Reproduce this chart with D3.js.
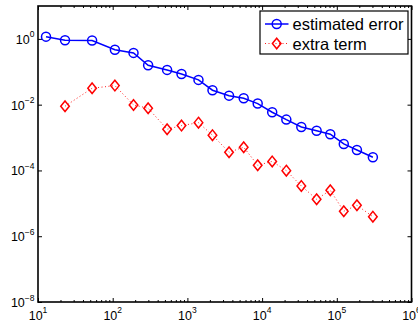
<!DOCTYPE html>
<html>
<head>
<meta charset="utf-8">
<script src="https://cdn.jsdelivr.net/npm/d3@7"></script>
<style>
  body { margin: 0; background: #fff; }
  svg { display: block; font-family: "Liberation Sans", Arial, Helvetica, sans-serif; }
</style>
</head>
<body>
<div id="chart"></div>
<script>
// sample sizes (x) and the two series
var nValues = [12.8, 23, 53, 107, 190, 298, 535, 834, 1407, 2166, 3610, 5670, 8730,
  13650, 21100, 33500, 53700, 81800, 124000, 186000, 304000]
var estimatedError = [1.17, 0.91, 0.89, 0.47, 0.375, 0.158, 0.114, 0.086, 0.0566, 0.0275,
  0.0188, 0.0157, 0.0108, 0.00589, 0.00351, 0.0021, 0.00162, 0.00126, 0.00064, 0.00042, 0.000252]
var extraN = nValues.slice(1)
var extraTerm = [0.00897, 0.0316, 0.038, 0.0098, 0.0078, 0.00179, 0.00231, 0.00284, 0.00118,
  0.000358, 0.000508, 0.000144, 0.000188, 9.86e-5, 3.38e-5, 1.33e-5, 2.5e-5, 5.74e-6, 8.73e-6, 3.93e-6]

var xTickExp = [1, 2, 3, 4, 5, 6]
var yTickExp = [-8, -6, -4, -2, 0]
var legendLabels = ['estimated error', 'extra term']

var margin = { top: 6, right: 6.5, bottom: 23, left: 38 }
var W = 418, H = 325
var width = W - margin.left - margin.right
var height = H - margin.top - margin.bottom

var svg = d3.select('#chart').append('svg')
  .attr('width', W)
  .attr('height', H)

var g = svg.append('g')
  .attr('transform', 'translate(' + margin.left + ',' + margin.top + ')')

var x = d3.scaleLog().domain([1e1, 1e6]).range([0, width])
var y = d3.scaleLog().domain([1e-8, 1e1]).range([height, 0])

var xMajor = xTickExp.map(function(e) { return Math.pow(10, e) })
var xMinor = []
for (var e = 1; e < 6; e++) {
  for (var k = 2; k < 10; k++) xMinor.push(k * Math.pow(10, e))
}
var yMajor = yTickExp.map(function(e) { return Math.pow(10, e) })

function tickStyle(sel) {
  sel.select('.domain').remove()
  sel.selectAll('line').attr('stroke', '#000').attr('stroke-width', 1)
}

// ticks inward on all four sides
g.append('g').attr('transform', 'translate(0,' + height + ')')
  .call(d3.axisBottom(x).tickValues(xMajor).tickSize(-4).tickFormat('')).call(tickStyle)
g.append('g').attr('transform', 'translate(0,' + height + ')')
  .call(d3.axisBottom(x).tickValues(xMinor).tickSize(-2).tickFormat('')).call(tickStyle)
g.append('g')
  .call(d3.axisTop(x).tickValues(xMajor).tickSize(-4).tickFormat('')).call(tickStyle)
g.append('g')
  .call(d3.axisTop(x).tickValues(xMinor).tickSize(-2).tickFormat('')).call(tickStyle)
g.append('g')
  .call(d3.axisLeft(y).tickValues(yMajor).tickSize(-4).tickFormat('')).call(tickStyle)
g.append('g').attr('transform', 'translate(' + width + ',0)')
  .call(d3.axisRight(y).tickValues(yMajor).tickSize(-4).tickFormat('')).call(tickStyle)

// tick labels as 10 with superscript exponent
xTickExp.forEach(function(e) {
  var t = g.append('text')
    .attr('x', x(Math.pow(10, e)))
    .attr('y', height + 17.5)
    .attr('text-anchor', 'middle')
    .attr('font-size', 12.5)
  t.append('tspan').text('10')
  t.append('tspan').attr('dy', -6.5).attr('font-size', 8.5).text(e)
})
yTickExp.forEach(function(e) {
  var t = g.append('text')
    .attr('x', -3.5)
    .attr('y', y(Math.pow(10, e)) + 5)
    .attr('text-anchor', 'end')
    .attr('font-size', 12.5)
  t.append('tspan').text('10')
  t.append('tspan').attr('dy', -6.5).attr('font-size', 8.5).text(e < 0 ? '\u2212' + (-e) : e)
})

// frame
g.append('rect')
  .attr('width', width)
  .attr('height', height)
  .attr('fill', 'none')
  .attr('stroke', '#000')
  .attr('stroke-width', 1.6)

var diamond = 'M0,-5.3L4.3,0L0,5.3L-4.3,0Z'

// extra term: red dotted line with diamonds
var extraData = extraN.map(function(n, i) { return [n, extraTerm[i]] })
g.append('path')
  .datum(extraData)
  .attr('fill', 'none')
  .attr('stroke', '#ff0000')
  .attr('stroke-width', 0.9)
  .attr('stroke-dasharray', '1,2.5')
  .attr('d', d3.line().x(function(d) { return x(d[0]) }).y(function(d) { return y(d[1]) }))
g.selectAll('.dia')
  .data(extraData)
  .enter().append('path')
  .attr('class', 'dia')
  .attr('d', diamond)
  .attr('transform', function(d) { return 'translate(' + x(d[0]) + ',' + y(d[1]) + ')' })
  .attr('fill', 'none')
  .attr('stroke', '#ff0000')
  .attr('stroke-width', 1.5)

// estimated error: blue solid line with circles
var errData = nValues.map(function(n, i) { return [n, estimatedError[i]] })
g.append('path')
  .datum(errData)
  .attr('fill', 'none')
  .attr('stroke', '#0000ff')
  .attr('stroke-width', 1.5)
  .attr('d', d3.line().x(function(d) { return x(d[0]) }).y(function(d) { return y(d[1]) }))
g.selectAll('.circ')
  .data(errData)
  .enter().append('circle')
  .attr('class', 'circ')
  .attr('cx', function(d) { return x(d[0]) })
  .attr('cy', function(d) { return y(d[1]) })
  .attr('r', 4.5)
  .attr('fill', 'none')
  .attr('stroke', '#0000ff')
  .attr('stroke-width', 1.5)

// legend
var lg = svg.append('g').attr('transform', 'translate(260,11)')
lg.append('rect')
  .attr('width', 148)
  .attr('height', 43)
  .attr('fill', '#fff')
  .attr('stroke', '#000')
  .attr('stroke-width', 1.2)

var rowY = [13, 32.5]
lg.append('line').attr('x1', 5).attr('x2', 28.5).attr('y1', rowY[0]).attr('y2', rowY[0])
  .attr('stroke', '#0000ff').attr('stroke-width', 1.5)
lg.append('circle').attr('cx', 16.7).attr('cy', rowY[0]).attr('r', 4.5)
  .attr('fill', 'none').attr('stroke', '#0000ff').attr('stroke-width', 1.5)
lg.append('line').attr('x1', 5).attr('x2', 28.5).attr('y1', rowY[1]).attr('y2', rowY[1])
  .attr('stroke', '#ff0000').attr('stroke-width', 0.9).attr('stroke-dasharray', '1,2.5')
lg.append('path').attr('d', diamond)
  .attr('transform', 'translate(16.7,' + rowY[1] + ')')
  .attr('fill', 'none').attr('stroke', '#ff0000').attr('stroke-width', 1.5)

legendLabels.forEach(function(s, i) {
  lg.append('text')
    .attr('x', 32.5)
    .attr('y', rowY[i] + 6)
    .attr('font-size', 16.5)
    .text(s)
})
</script>
</body>
</html>
